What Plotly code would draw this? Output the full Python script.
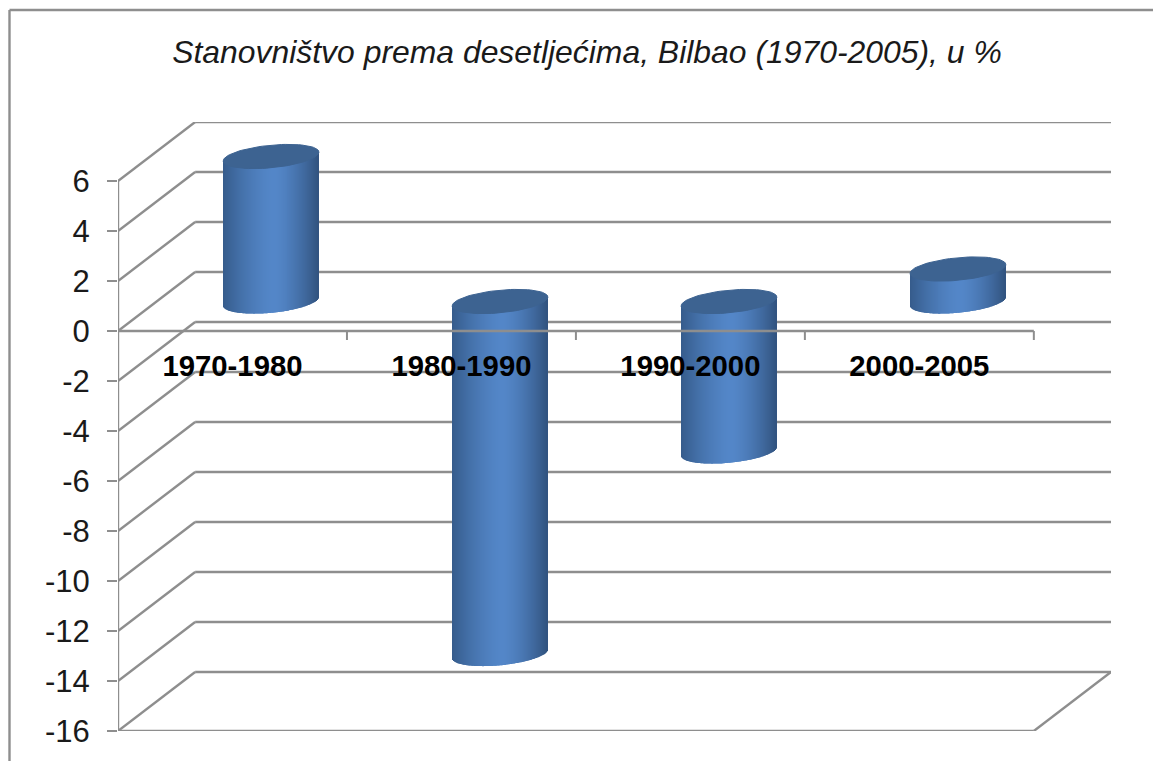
import numpy as np
import plotly.graph_objects as go

# values
categories = ['1970-1980', '1980-1990', '1990-2000', '2000-2005']
growth = [5.8, -14.1, -6.0, 1.3]
y_ticks = [6, 4, 2, 0, -2, -4, -6, -8, -10, -12, -14, -16]
title = 'Stanovništvo prema desetljećima, Bilbao (1970-2005), u %'

GRID = '#8e8e8e'
TOP_COLOR = '#3d6391'
DARK_L = np.array([54, 92, 140])
DARK_R = np.array([50, 84, 128])
LIGHT = np.array([84, 135, 201])

# oblique depth of the 3d box, in axis units
DEPTH_X = 77 / 228.5
DEPTH_Y = 59 / 25
BAR_W = 95.5 / 228.5
SHEAR = 4.4 / 25
CAP = 11.3 / 25
SLICES = 96

fig = go.Figure()


def add_line(x0, y0, x1, y1, layer='below', xref='x', yref='y'):
    fig.add_shape(type='line', x0=x0, y0=y0, x1=x1, y1=y1, xref=xref, yref=yref,
                  layer=layer, line=dict(color=GRID, width=2.4))


# back wall and side wall
for v in y_ticks:
    add_line(0, v, DEPTH_X, v + DEPTH_Y)
    add_line(DEPTH_X, v + DEPTH_Y, 4 + DEPTH_X, v + DEPTH_Y)
add_line(4, -16, 4 + DEPTH_X, -16 + DEPTH_Y)
add_line(0, -16, 4, -16)
add_line(0, -16, 0, 6)

# outer border of the chart object
add_line((9.5 - 118) / 993, -30 / 609, (9.5 - 118) / 993, 1 + 112 / 609, xref='paper', yref='paper')
add_line((9.5 - 118) / 993, 1 + 112 / 609, 1 + 42 / 993, 1 + 112 / 609, xref='paper', yref='paper')

# cylinders: one thin bar per slice so the shading can change across the width
for i, val in enumerate(growth):
    cx = i + 0.5 + DEPTH_X / 2
    mid = DEPTH_Y / 2
    top = max(val, 0) + mid
    bot = min(val, 0) + mid
    u = (np.arange(SLICES) + 0.5) / SLICES * 2 - 1
    shear = SHEAR * u
    base = bot + shear - CAP * np.sqrt(1 - u ** 2)
    height = top + shear - base
    colors = []
    for a in u:
        dark = DARK_L if a < 0.06 else DARK_R
        t = abs(a - 0.06) / (1.06 if a < 0.06 else 0.94)
        c = LIGHT + (dark - LIGHT) * t ** 1.5
        colors.append('rgb(%d,%d,%d)' % tuple(c))
    fig.add_trace(go.Bar(x=cx + u * BAR_W / 2, y=height, base=base, width=BAR_W / SLICES * 1.02,
                         marker=dict(color=colors, line=dict(width=0)),
                         hoverinfo='skip', showlegend=False))
    t = np.linspace(0, 2 * np.pi, 80)
    fig.add_trace(go.Scatter(x=cx + np.cos(t) * BAR_W / 2,
                             y=top + SHEAR * np.cos(t) + CAP * np.sin(t),
                             mode='lines', fill='toself', fillcolor=TOP_COLOR,
                             line=dict(color=TOP_COLOR, width=1),
                             hoverinfo='skip', showlegend=False))

# zero axis with its category ticks sits in front of the bars
fig.add_trace(go.Scatter(x=[0, 4], y=[0, 0], mode='lines', line=dict(color=GRID, width=2.4),
                         hoverinfo='skip', showlegend=False))
for k in range(5):
    fig.add_trace(go.Scatter(x=[k, k], y=[0, -0.36], mode='lines', line=dict(color=GRID, width=2),
                             hoverinfo='skip', showlegend=False))

fig.add_trace(go.Scatter(x=[i + 0.5 for i in range(len(categories))], y=[-1.52] * len(categories),
                         mode='text', text=categories, textposition='middle center',
                         textfont=dict(family='Liberation Sans', size=29.3, color='black', weight='bold'),
                         hoverinfo='skip', showlegend=False))

fig.update_layout(
    width=1153, height=761,
    margin=dict(l=118, r=42, t=122, b=30),
    paper_bgcolor='white', plot_bgcolor='white',
    barmode='overlay',
    title=dict(text=title, x=587 / 1153, xanchor='center', y=1 - 52 / 761, yanchor='middle',
               font=dict(family='Liberation Sans', size=31.9, color='#1a1a1a', style='italic')),
    xaxis=dict(range=[0, 4 + DEPTH_X], visible=False),
    yaxis=dict(range=[-16, -16 + 609 / 25], tickmode='array', tickvals=y_ticks,
               ticktext=[str(v) for v in y_ticks], ticks='outside', ticklen=10, tickwidth=2.4,
               tickcolor=GRID, showgrid=False, zeroline=False, showline=False, ticklabelstandoff=11,
               tickfont=dict(family='Liberation Sans', size=31, color='#1a1a1a')),
)

fig.write_html('out.html', config=dict(displayModeBar=False),
               post_script="document.body.style.margin='0';")
